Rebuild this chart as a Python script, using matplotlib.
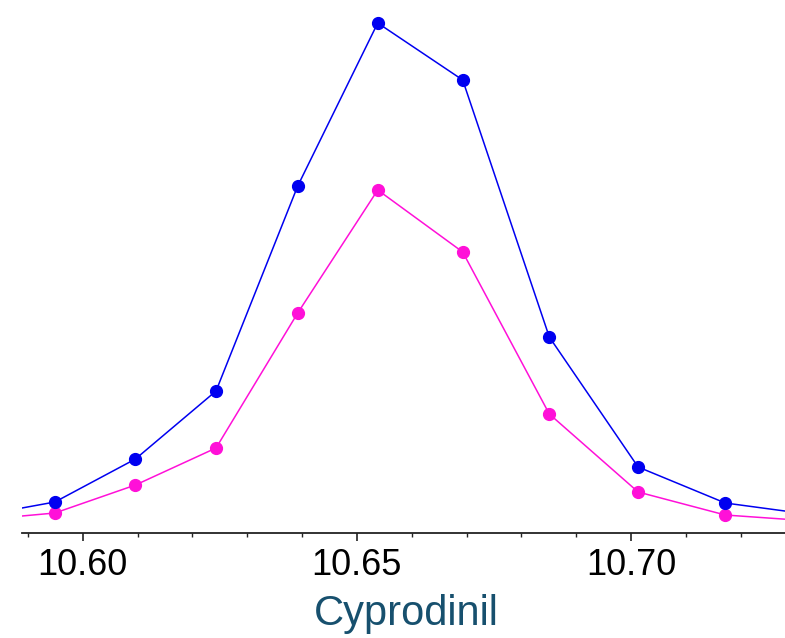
import matplotlib
matplotlib.use("Agg")
import matplotlib.pyplot as plt
from matplotlib.ticker import MultipleLocator, FormatStrFormatter

# Retention time (min)
rt = [10.5799, 10.5949, 10.6096, 10.6243, 10.6392, 10.6538, 10.6693, 10.6851, 10.7013, 10.7172, 10.7328]
# Relative intensities (two traces)
blue_vals = [16, 31, 74, 142, 347, 510, 453, 196, 66, 30, 18.5]
magenta_vals = [12.5, 20, 48, 85, 220, 343, 281, 119, 41, 18, 12]
xlabel = "Cyprodinil"

W, H = 785, 638
fig = plt.figure(figsize=(W / 100, H / 100), dpi=100)
ax = fig.add_axes([22 / W, 105 / H, 1 - 22 / W, 1 - 105 / H])

ax.plot(rt, blue_vals, color="#0000f0", lw=1.1, marker="o", ms=8.5, zorder=3)
ax.plot(rt, magenta_vals, color="#ff10d8", lw=1.1, marker="o", ms=8.5, zorder=2)

ax.set_xlim(10.5889, 10.7281)
ax.set_ylim(0, 533)

for s in ["left", "right", "top"]:
    ax.spines[s].set_visible(False)
ax.spines["bottom"].set_linewidth(1.3)
ax.spines["bottom"].set_color("#222222")

ax.set_yticks([])
ax.xaxis.set_major_locator(MultipleLocator(0.05))
ax.xaxis.set_minor_locator(MultipleLocator(0.01))
ax.xaxis.set_major_formatter(FormatStrFormatter("%.2f"))
ax.tick_params(axis="x", which="major", direction="out", length=6, width=1.2,
               labelsize=26, pad=5, colors="#222222", labelcolor="black")
ax.tick_params(axis="x", which="minor", direction="out", length=3, width=1.0, colors="#222222")
for lbl in ax.get_xticklabels():
    lbl.set_fontfamily("Liberation Sans")

fig.text(406 / W, 13 / H, xlabel, ha="center", va="baseline",
         fontsize=30, color="#17506e", family="Liberation Sans")

fig.savefig("out.png", dpi=100)
